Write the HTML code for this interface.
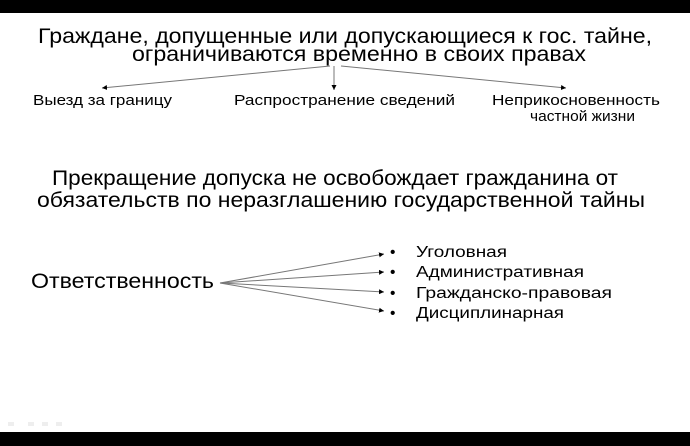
<!DOCTYPE html>
<html><head><meta charset="utf-8"><style>
html,body{margin:0;padding:0;background:#fff}
svg{display:block}
text{font-family:"Liberation Sans",Arial,sans-serif;fill:#000}
</style></head><body>
<svg width="690" height="446" viewBox="0 0 690 446" xmlns="http://www.w3.org/2000/svg">
<defs><marker id="a" markerWidth="6" markerHeight="6" refX="5" refY="3" orient="auto" markerUnits="userSpaceOnUse"><path d="M0,0.5 L5,3 L0,5.5z" fill="#000"/></marker></defs>
<rect x="0" y="0" width="690" height="13" fill="#000"/>
<rect x="0" y="432" width="690" height="14" fill="#000"/>
<text x="38" y="43" font-size="21" textLength="614" lengthAdjust="spacingAndGlyphs">Граждане, допущенные или допускающиеся к гос. тайне,</text>
<text x="132" y="61" font-size="21" textLength="454" lengthAdjust="spacingAndGlyphs">ограничиваются временно в своих правах</text>
<g stroke="#777" stroke-width="1" fill="none">
<line x1="330" y1="66" x2="102" y2="88" marker-end="url(#a)"/>
<line x1="334" y1="66" x2="334" y2="90" marker-end="url(#a)"/>
<line x1="341" y1="66" x2="566" y2="88" marker-end="url(#a)"/>
</g>
<text x="33" y="105" font-size="14.5" textLength="139" lengthAdjust="spacingAndGlyphs">Выезд за границу</text>
<text x="234" y="105" font-size="14.5" textLength="221" lengthAdjust="spacingAndGlyphs">Распространение  сведений</text>
<text x="492" y="105" font-size="14.5" textLength="168" lengthAdjust="spacingAndGlyphs">Неприкосновенность</text>
<text x="530" y="121" font-size="14.5" textLength="105" lengthAdjust="spacingAndGlyphs">частной жизни</text>
<text x="52" y="185" font-size="21" textLength="566" lengthAdjust="spacingAndGlyphs">Прекращение допуска не освобождает гражданина от</text>
<text x="37" y="207" font-size="21" textLength="608" lengthAdjust="spacingAndGlyphs">обязательств по неразглашению государственной тайны</text>
<text x="31" y="288" font-size="21" textLength="183" lengthAdjust="spacingAndGlyphs">Ответственность</text>
<g stroke="#777" stroke-width="1" fill="none">
<line x1="220" y1="283" x2="384" y2="254" marker-end="url(#a)"/>
<line x1="220" y1="283" x2="384" y2="272" marker-end="url(#a)"/>
<line x1="220" y1="283" x2="384" y2="292" marker-end="url(#a)"/>
<line x1="220" y1="283" x2="384" y2="311" marker-end="url(#a)"/>
</g>
<g font-size="15.5">
<text x="390" y="257">•</text><text x="416" y="257" textLength="91" lengthAdjust="spacingAndGlyphs">Уголовная</text>
<text x="390" y="277">•</text><text x="416" y="277" textLength="168" lengthAdjust="spacingAndGlyphs">Административная</text>
<text x="390" y="298">•</text><text x="416" y="298" textLength="196" lengthAdjust="spacingAndGlyphs">Гражданско-правовая</text>
<text x="390" y="318">•</text><text x="416" y="318" textLength="148" lengthAdjust="spacingAndGlyphs">Дисциплинарная</text>
</g>
<g fill="#eee"><rect x="8" y="422" width="6" height="4"/><rect x="28" y="422" width="6" height="4"/><rect x="42" y="422" width="6" height="4"/><rect x="56" y="422" width="6" height="4"/></g>
</svg>
</body></html>
